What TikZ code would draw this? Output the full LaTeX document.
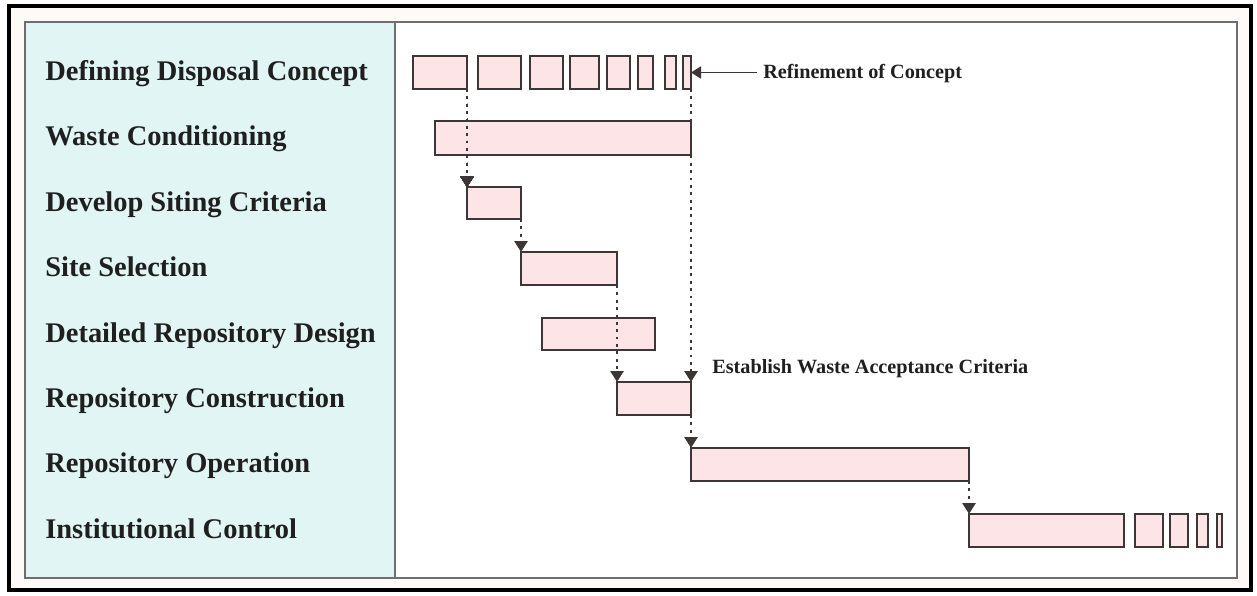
\documentclass[tikz,border=0pt]{standalone}
\usepackage{fontspec}
\setmainfont{Liberation Serif}
\usetikzlibrary{arrows.meta}
\definecolor{panelcyan}{HTML}{E1F5F5}
\definecolor{barpink}{HTML}{FDE4E7}
\definecolor{barline}{HTML}{3C3636}
\definecolor{framegray}{HTML}{6E6E6E}
\definecolor{paper}{HTML}{FDFAF8}
\tikzstyle{task} = [draw=barline, fill=barpink, line width=1.4pt, inner sep=0pt, outer sep=0pt, anchor=north west]
\tikzstyle{rowlabel} = [anchor=base west, inner sep=0pt, font=\fontsize{16.2}{18}\selectfont\bfseries, text=black!88]
\tikzstyle{note} = [anchor=base west, inner sep=0pt, font=\fontsize{11.5}{13}\selectfont\bfseries, text=black!88]
\tikzstyle{link} = [barline, line width=1.6pt, dash pattern=on 1.6pt off 2.6pt, -{Triangle[length=2.2mm,width=2.6mm]}]
% bar from x1 to x2, top y1 to bottom y2 (pixel units)
\newcommand{\ganttbar}[5]{\node[task, minimum width={(#3-#2)*0.02cm}, minimum height={(#5-#4)*0.02cm}] (#1) at (#2,#4) {};}

\begin{document}
\begin{tikzpicture}[x=0.02cm, y=-0.02cm]
	\useasboundingbox (0,0) rectangle (1257,595);
	% frames
	\fill[white] (0,0) rectangle (1257,595);
	\draw[line width=1.8pt, fill=paper] (9,6) rectangle (1251,590);
	\draw[framegray, line width=1.6pt, fill=white] (25,22) rectangle (1237,578);
	\draw[framegray, line width=1.6pt, fill=panelcyan] (25,22) rectangle (395,578);
	% activity names
	\foreach \txt [count=\i] in {Defining Disposal Concept, Waste Conditioning, Develop Siting Criteria, Site Selection, Detailed Repository Design, Repository Construction, Repository Operation, Institutional Control}
		\node[rowlabel] (label\i) at (45, {80.5+65.4*(\i-1)}) {\txt};
	% bars
	\foreach \a/\b [count=\i] in {413/467, 478/521, 530/563, 570/599, 607/630, 638/653, 665/676, 683/691}
		\ganttbar{concept\i}{\a}{\b}{56}{89}
	\ganttbar{waste}{435}{691}{121}{155}
	\ganttbar{siting}{467}{521}{187}{219}
	\ganttbar{site}{521}{617}{252}{285}
	\ganttbar{design}{542}{655}{318}{350}
	\ganttbar{constr}{617}{691}{382}{415}
	\ganttbar{oper}{691}{969}{448}{481}
	\ganttbar{control}{969}{1124}{514}{547}
	\foreach \a/\b [count=\i] in {1135/1163, 1170/1188, 1197/1208, 1217/1222}
		\ganttbar{control\i}{\a}{\b}{514}{547}
	% dependencies
	\draw[link] (concept1.south east) -- (siting.north west);
	\draw[link] (siting.south east) -- (site.north west);
	\draw[link] (site.south east) -- (constr.north west);
	\draw[link] (concept8.south east) -- (constr.north east);
	\draw[link] (constr.south east) -- (oper.north west);
	\draw[link] (oper.south east) -- (control.north west);
	% notes
	\node[note] (refine) at (763,78.5) {Refinement of Concept};
	\coordinate (refstart) at (757,72.5);
	\draw[barline, line width=1pt, -{Triangle[length=2mm,width=2.4mm]}] (refstart) -- (concept8.east);
	\node[note] (accept) at (712,373) {Establish Waste Acceptance Criteria};
\end{tikzpicture}
\end{document}
